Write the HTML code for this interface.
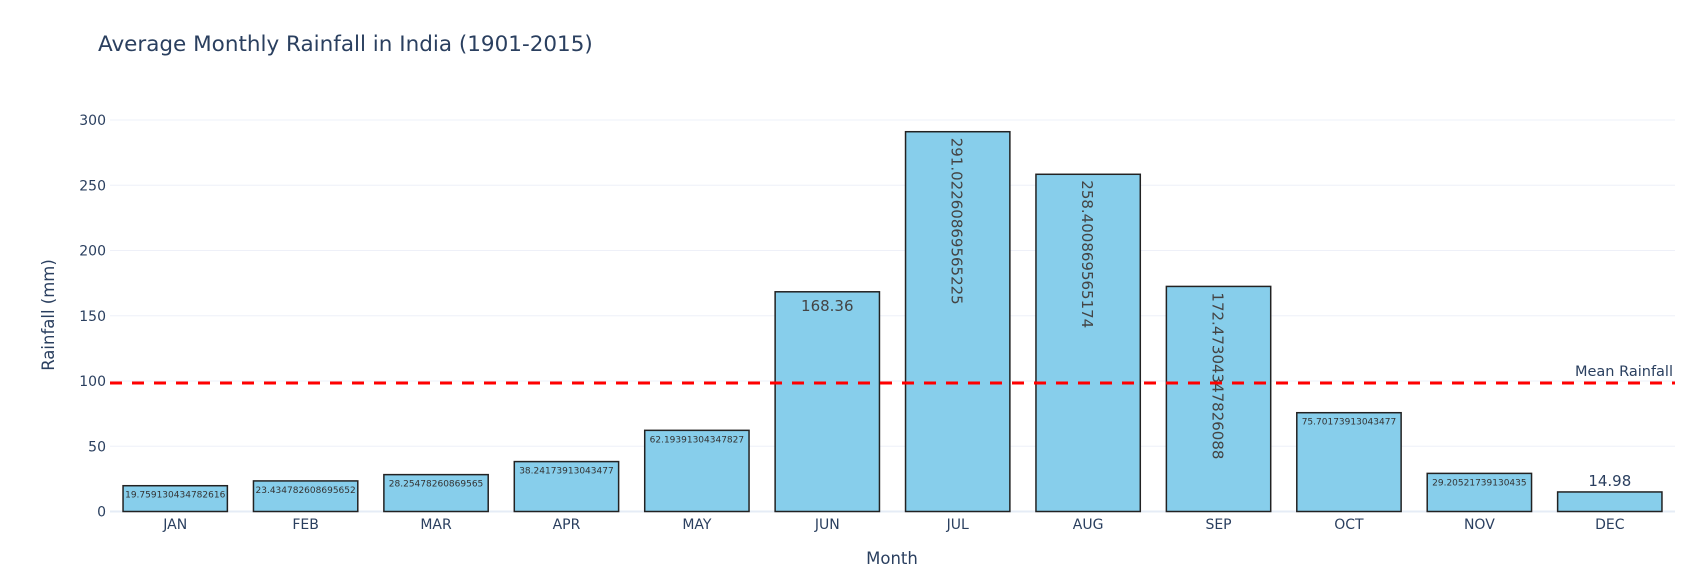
<!DOCTYPE html>
<html><head><meta charset="utf-8"><style>
body{margin:0;background:#fff;}
svg{display:block;font-family:"DejaVu Sans","Liberation Sans",sans-serif;}
</style></head><body>
<svg id="chart" width="1703" height="577" viewBox="0 0 1703 577" xmlns="http://www.w3.org/2000/svg">
<text x="98" y="51" font-size="21.5" fill="#2a3f5f">Average Monthly Rainfall in India (1901-2015)</text>
<g id="grid"></g><g id="bars"></g><g id="labels"></g>
<text x="892" y="564" font-size="16.5" fill="#2a3f5f" text-anchor="middle">Month</text>
<text x="0" y="0" font-size="16.5" fill="#2a3f5f" text-anchor="middle" transform="translate(54,315) rotate(-90)">Rainfall (mm)</text>
</svg>
<script>
const months=["JAN","FEB","MAR","APR","MAY","JUN","JUL","AUG","SEP","OCT","NOV","DEC"];
const rainfall=[19.759130434782616,23.434782608695652,28.25478260869565,38.24173913043477,62.19391304347827,168.36,291.0226086956522,258.4008695652174,172.4730434782609,75.70173913043477,29.20521739130435,14.98];
const barText=["19.759130434782616","23.434782608695652","28.25478260869565","38.24173913043477","62.19391304347827","168.36","291.02260869565225","258.400869565174","172.47304347826088","75.70173913043477","29.20521739130435","14.98"];
const yTicks=[0,50,100,150,200,250,300];
const meanValue=rainfall.reduce((a,b)=>a+b,0)/rainfall.length;
const NS="http://www.w3.org/2000/svg";
const L=110,R=1675,Y0=511.5,Y300=120;
const y=v=>Y0-(Y0-Y300)*v/300;
const band=(R-L)/months.length;
const xc=i=>L+band*(i+0.5);
function mk(tag,attrs,parent,txt){const e=document.createElementNS(NS,tag);for(const k in attrs)e.setAttribute(k,attrs[k]);if(txt!==undefined)e.textContent=txt;parent.appendChild(e);return e;}
const grid=document.getElementById('grid'),bars=document.getElementById('bars'),labels=document.getElementById('labels');
yTicks.forEach(t=>{
  const g=mk('line',{x1:L,x2:R,y1:y(t),y2:y(t),stroke:t===0?'#e5ecf6':'#eef0f8','stroke-width':t===0?2:1},grid);
  
  
  const tx=mk('text',{x:L-4,y:y(t)+5,'font-size':14,fill:'#2a3f5f','text-anchor':'end'},grid,String(t));
  
  
});
const bw=band*0.8;
months.forEach((m,i)=>{
  const v=rainfall[i];
  const r=mk('rect',{x:xc(i)-bw/2,y:y(v),width:bw,height:Y0-y(v),fill:'#87ceeb',stroke:'#222','stroke-width':1.5},bars);
  
  
  const tl=mk('text',{x:xc(i),y:529,'font-size':14,fill:'#2a3f5f','text-anchor':'middle'},labels,m);
  
  
  const txt=barText[i];let lb;
  const h=Y0-y(v);
  if(txt.length<=6&&h<30){
    lb=mk('text',{x:xc(i),y:y(v)-6,'font-size':15,fill:'#2a3f5f','text-anchor':'middle'},labels,txt);
  }else if(txt.length<=6){
    lb=mk('text',{x:xc(i),y:y(v)+19,'font-size':15,fill:'#444','text-anchor':'middle'},labels,txt);
  }else if(h>160){
    lb=mk('text',{x:0,y:0,'font-size':15,fill:'#444','text-anchor':'start',transform:`translate(${xc(i)-6},${y(v)+6}) rotate(90)`},labels,txt);
  }else{
    lb=mk('text',{x:xc(i),y:y(v)+12,'font-size':9,fill:'#333','text-anchor':'middle'},labels,txt);
  }
  
  
});
const ml=mk('line',{x1:L,x2:R,y1:y(meanValue),y2:y(meanValue),stroke:'#ff0000','stroke-width':3,'stroke-dasharray':'12,10'},labels);


const mt=mk('text',{x:R-2,y:y(meanValue)-7,'font-size':14.5,fill:'#2a3f5f','text-anchor':'end'},labels,'Mean Rainfall');


</script>
</body></html>
